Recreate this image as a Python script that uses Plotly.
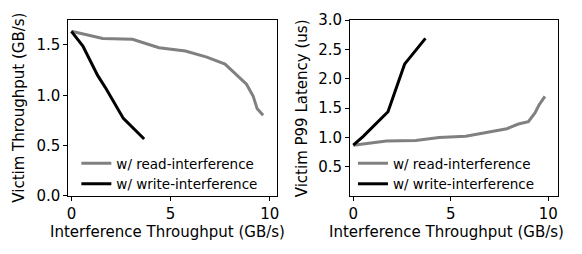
import plotly.graph_objects as go

# Left panel: victim throughput
read_x_tp = [0, 1.58, 3.08, 4.42, 5.75, 6.83, 7.75, 8.25, 8.83, 9.17, 9.37, 9.67]
read_y_tp = [1.636, 1.565, 1.556, 1.472, 1.44, 1.38, 1.31, 1.22, 1.11, 0.99, 0.865, 0.80]
write_x_tp = [0, 0.58, 1.33, 1.75, 2.62, 3.67]
write_y_tp = [1.636, 1.49, 1.195, 1.065, 0.77, 0.565]

# Right panel: victim P99 latency
read_x_lat = [0, 1.7, 3.2, 4.4, 5.77, 6.95, 7.88, 8.47, 8.98, 9.32, 9.52, 9.83]
read_y_lat = [0.87, 0.94, 0.95, 1.0, 1.02, 1.09, 1.15, 1.23, 1.27, 1.42, 1.55, 1.70]
write_x_lat = [0, 0.51, 1.78, 2.63, 3.70]
write_y_lat = [0.87, 1.02, 1.44, 2.25, 2.69]

names = ["w/ read-interference", "w/ write-interference"]
xticks = [0, 5, 10]
yticks_tp = [0.0, 0.5, 1.0, 1.5]
yticks_lat = [0.5, 1.0, 1.5, 2.0, 2.5, 3.0]

GRAY = "#808080"
FONT = "DejaVu Sans"
W, H = 582, 254

fig = go.Figure()
fig.add_trace(go.Scatter(x=read_x_tp, y=read_y_tp, mode="lines", name=names[0],
                         line=dict(color=GRAY, width=3), xaxis="x", yaxis="y", legend="legend"))
fig.add_trace(go.Scatter(x=write_x_tp, y=write_y_tp, mode="lines", name=names[1],
                         line=dict(color="black", width=3), xaxis="x", yaxis="y", legend="legend"))
fig.add_trace(go.Scatter(x=read_x_lat, y=read_y_lat, mode="lines", name=names[0],
                         line=dict(color=GRAY, width=3), xaxis="x2", yaxis="y2", legend="legend2"))
fig.add_trace(go.Scatter(x=write_x_lat, y=write_y_lat, mode="lines", name=names[1],
                         line=dict(color="black", width=3), xaxis="x2", yaxis="y2", legend="legend2"))

ax_common = dict(showline=True, mirror=True, linecolor="black", linewidth=1,
                 ticks="outside", ticklen=4, tickwidth=1, tickcolor="black",
                 showgrid=False, zeroline=False, ticklabeloverflow="allow",
                 tickfont=dict(family=FONT, size=15, color="black"))

ytext_tp = [f"{v:.1f}" for v in yticks_tp]
ytext_lat = [f"{v:.1f}" for v in yticks_lat]

ydom = [(H - 201.7) / H, (H - 12.7) / H]
fig.update_layout(
    width=W, height=H,
    margin=dict(l=0, r=0, t=0, b=0),
    plot_bgcolor="white", paper_bgcolor="white",
    font=dict(family=FONT, size=15, color="black"),
    xaxis=dict(domain=[67 / W, 277 / W], range=[-0.15, 10.35], tickvals=xticks,
               anchor="y", **ax_common),
    yaxis=dict(domain=ydom, range=[-0.004, 1.75], tickvals=yticks_tp,
               ticktext=ytext_tp, anchor="x", **ax_common),
    xaxis2=dict(domain=[351 / W, 561 / W], range=[-0.17, 10.51], tickvals=xticks,
                anchor="y2", **ax_common),
    yaxis2=dict(domain=ydom, range=[0, 3.005], tickvals=yticks_lat,
                ticktext=ytext_lat, anchor="x2", **ax_common),
    legend=dict(x=75 / W, y=(H - 150) / H, xanchor="left", yanchor="top",
                bgcolor="rgba(0,0,0,0)", font=dict(family=FONT, size=13.5, color="black")),
    legend2=dict(x=354 / W, y=(H - 150) / H, xanchor="left", yanchor="top",
                 bgcolor="rgba(0,0,0,0)", font=dict(family=FONT, size=13.5, color="black")),
    annotations=[
        dict(text="Interference Throughput (GB/s)", x=167 / W, y=(H - 240) / H,
             xref="paper", yref="paper", showarrow=False, xanchor="center", yanchor="middle",
             font=dict(family=FONT, size=15)),
        dict(text="Interference Throughput (GB/s)", x=448.5 / W, y=(H - 240) / H,
             xref="paper", yref="paper", showarrow=False, xanchor="center", yanchor="middle",
             font=dict(family=FONT, size=15)),
        dict(text="Victim Throughput (GB/s)", x=17 / W, y=(H - 107) / H, textangle=-90,
             xref="paper", yref="paper", showarrow=False, xanchor="center", yanchor="middle",
             font=dict(family=FONT, size=15)),
        dict(text="Victim P99 Latency (us)", x=302 / W, y=(H - 107) / H, textangle=-90,
             xref="paper", yref="paper", showarrow=False, xanchor="center", yanchor="middle",
             font=dict(family=FONT, size=15)),
    ],
)

fig.write_html(
    "out.html",
    config={"displayModeBar": False},
    post_script="document.body.style.margin='0';document.body.style.overflow='hidden';",
)
